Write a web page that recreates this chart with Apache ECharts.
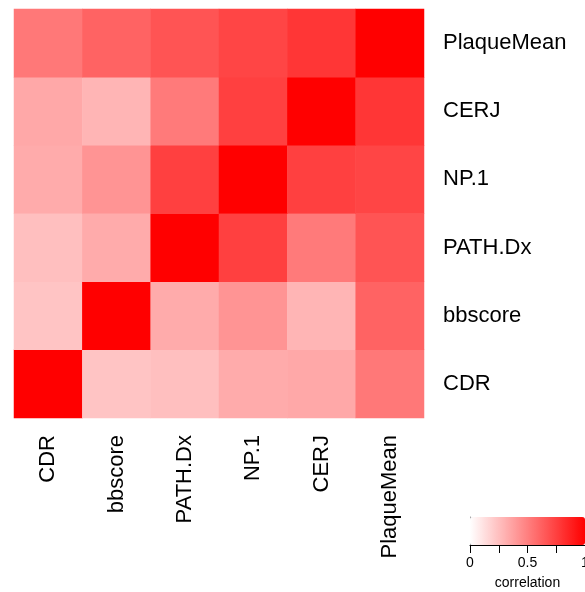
<!DOCTYPE html>
<html>
<head>
<meta charset="utf-8">
<script src="https://cdn.jsdelivr.net/npm/echarts@6/dist/echarts.min.js"></script>
<style>html,body{margin:0;padding:0;background:#fff;}#c{width:585px;height:592px;}</style>
</head>
<body>
<div id="c"></div>
<script>
// variables (x left->right, y bottom->top)
var variables = ['CDR', 'bbscore', 'PATH.Dx', 'NP.1', 'CERJ', 'PlaqueMean'];
// correlation rows (each row lists values against variables in the same order)
var rowCDR        = [1.00, 0.23, 0.25, 0.33, 0.34, 0.53];
var rowBbscore    = [0.23, 1.00, 0.33, 0.42, 0.29, 0.61];
var rowPATHDx     = [0.25, 0.33, 1.00, 0.75, 0.52, 0.67];
var rowNP1        = [0.33, 0.42, 0.75, 1.00, 0.75, 0.73];
var rowCERJ       = [0.34, 0.29, 0.52, 0.75, 1.00, 0.79];
var rowPlaqueMean = [0.53, 0.61, 0.67, 0.73, 0.79, 1.00];
var legendTicks = [0, 0.5, 1];
var legendTitle = 'correlation';

var rows = [rowCDR, rowBbscore, rowPATHDx, rowNP1, rowCERJ, rowPlaqueMean];
var data = [];
rows.forEach(function (row, yi) {
  row.forEach(function (v, xi) { data.push([xi, yi, v]); });
});

var FONT = 'Liberation Sans, Arial, Helvetica, sans-serif';
var chart = echarts.init(document.getElementById('c'), null, {renderer: 'canvas'});
chart.setOption({
  animation: false,
  backgroundColor: '#ffffff',
  grid: [
    {left: 14, top: 9, width: 410, height: 409, outerBoundsMode: 'none', containLabel: false},
    {left: 470, top: 517, width: 115, height: 28, outerBoundsMode: 'none', containLabel: false}
  ],
  xAxis: [
    {
      type: 'category', data: variables, gridIndex: 0,
      axisLine: {show: false}, axisTick: {show: false}, splitLine: {show: false},
      axisLabel: {rotate: 90, margin: 17, fontSize: 22, color: '#000', fontFamily: FONT, padding: [0, 0, 12, 0]}
    },
    {
      type: 'value', gridIndex: 1, min: 0, max: 1, interval: 0.25,
      axisLine: {show: true, lineStyle: {color: '#000', width: 1}},
      axisTick: {show: true, length: 8, lineStyle: {color: '#000'}},
      splitLine: {show: false},
      axisLabel: {
        margin: 11, fontSize: 14, color: '#000', fontFamily: FONT, showMaxLabel: true, showMinLabel: true,
        hideOverlap: false,
        formatter: function (v) { return legendTicks.indexOf(v) >= 0 ? String(v) : ''; }
      },
      name: legendTitle, nameLocation: 'middle', nameGap: 31,
      nameTextStyle: {fontSize: 14, color: '#000', fontFamily: FONT}
    }
  ],
  yAxis: [
    {
      type: 'category', data: variables, gridIndex: 0, position: 'right',
      axisLine: {show: false}, axisTick: {show: false}, splitLine: {show: false},
      axisLabel: {margin: 19, fontSize: 22, color: '#000', fontFamily: FONT}
    },
    {
      type: 'value', gridIndex: 1, min: 0, max: 1,
      axisLine: {show: true, lineStyle: {color: '#999', width: 1}},
      axisTick: {show: false}, axisLabel: {show: false}, splitLine: {show: false}
    }
  ],
  visualMap: {
    type: 'continuous', min: 0, max: 1, orient: 'horizontal',
    seriesIndex: 0, calculable: false, showLabel: false, text: null,
    left: 470, top: 517, itemWidth: 28, itemHeight: 115, padding: 0,
    inRange: {color: ['#ffffff', '#ff0000']}
  },
  series: [{
    type: 'heatmap', xAxisIndex: 0, yAxisIndex: 0, data: data,
    itemStyle: {borderWidth: 0},
    emphasis: {disabled: true}
  }]
});
</script>
</body>
</html>
